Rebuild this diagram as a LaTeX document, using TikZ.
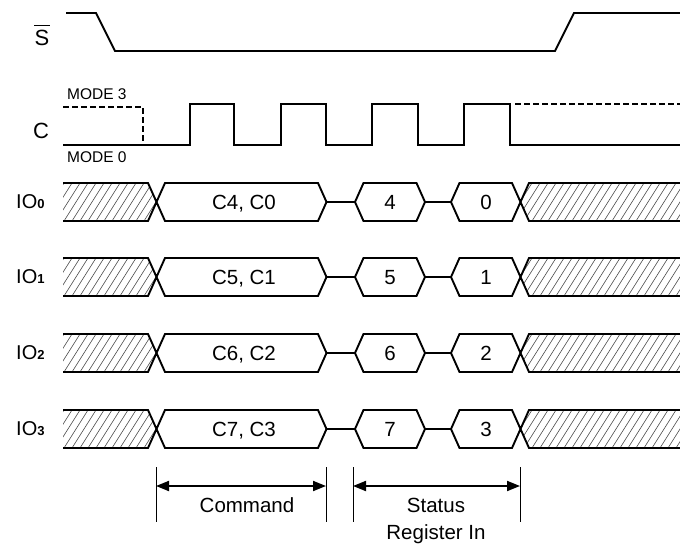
\documentclass[tikz,border=0pt]{standalone}
\usepackage{fontspec}
\setmainfont{Liberation Sans}
\usetikzlibrary{arrows.meta}
\newcommand{\rowdraw}[4]{%
% #1 center y, #2 command text, #3 first digit, #4 second digit
\begin{scope}
\clip (63,#1-19) -- (148,#1-19) -- (156.5,#1) -- (148,#1+19) -- (63,#1+19) -- cycle;
\foreach \i in {40,48,...,160} \draw[hatch] (\i,#1+19) -- ++(24,-38);
\end{scope}
\begin{scope}
\clip (520.5,#1) -- (529,#1-19) -- (680,#1-19) -- (680,#1+19) -- (529,#1+19) -- cycle;
\foreach \i in {500,508,...,690} \draw[hatch] (\i,#1+19) -- ++(24,-38);
\end{scope}
\draw[sig] (63,#1-19) -- (148,#1-19) -- (165,#1+19) -- (318,#1+19) -- (326.5,#1) -- (318,#1-19) -- (165,#1-19) -- (148,#1+19) -- (63,#1+19);
\draw[sig] (326.5,#1) -- (355,#1);
\draw[sig] (355,#1) -- (363.5,#1-19) -- (416.5,#1-19) -- (425,#1) -- (416.5,#1+19) -- (363.5,#1+19) -- cycle;
\draw[sig] (425,#1) -- (451,#1);
\draw[sig] (680,#1-19) -- (529,#1-19) -- (512,#1+19) -- (459.5,#1+19) -- (451,#1) -- (459.5,#1-19) -- (512,#1-19) -- (529,#1+19) -- (680,#1+19);
\node[txt,anchor=base] at (244,#1+7.5) {#2};
\node[txt,anchor=base] at (390,#1+7.5) {#3};
\node[txt,anchor=base] at (486,#1+7.5) {#4};
}
\begin{document}
\begin{tikzpicture}[x=1pt,y=-1pt,
  sig/.style={line width=1.9pt, line join=miter},
  hatch/.style={line width=0.6pt, black!70},
  dsig/.style={line width=2pt, dash pattern=on 6pt off 3pt},
  txt/.style={inner sep=0pt, font=\fontsize{20.5}{20.5}\selectfont},
  lbl/.style={inner sep=0pt, font=\fontsize{22}{22}\selectfont},
  iolbl/.style={inner sep=0pt, anchor=base west, font=\fontsize{20}{20}\selectfont},
  small/.style={inner sep=0pt, anchor=base west, font=\fontsize{15.5}{15.5}\selectfont},
  tick/.style={line width=0.9pt},
  dim/.style={line width=1.9pt, {Triangle[length=13pt,width=10pt]}-{Triangle[length=13pt,width=10pt]}}]
\useasboundingbox (0,0) rectangle (680,544);
% S signal
\node[lbl,anchor=base] (sl) at (42,45) {S};
\draw[line width=1.4pt] ([yshift=4pt]sl.north west) -- ([yshift=4pt]sl.north east);
\draw[sig] (66,13) -- (96,13) -- (115,51) -- (555,51) -- (574,13) -- (681,13);
% C signal
\node[lbl,anchor=base] (cl) at (41,138) {C};
\node[small] (m3) at (67,99) {MODE 3};
\node[small] (m0) at (67,162) {MODE 0};
\draw[dsig] (63,107) -- (143,107) -- (143,145);
\draw[sig] (63,145) -- (190,145) -- (190,104) -- (234,104) -- (234,145) -- (281,145) -- (281,104) -- (326,104) -- (326,145) -- (372,145) -- (372,104) -- (418,104) -- (418,145) -- (464,145) -- (464,104) -- (510,104) -- (510,145) -- (681,145);
\draw[dsig] (515,104) -- (681,104);
% IO rows
\node[iolbl] (io0) at (16,208) {IO\textbf{\fontsize{13}{13}\selectfont 0}};
\node[iolbl] (io1) at (16,283) {IO\textbf{\fontsize{13}{13}\selectfont 1}};
\node[iolbl] (io2) at (16,359) {IO\textbf{\fontsize{13}{13}\selectfont 2}};
\node[iolbl] (io3) at (16,435) {IO\textbf{\fontsize{13}{13}\selectfont 3}};
\rowdraw{202}{C4, C0}{4}{0}
\rowdraw{277}{C5, C1}{5}{1}
\rowdraw{353}{C6, C2}{6}{2}
\rowdraw{429}{C7, C3}{7}{3}
% dimension lines
\coordinate (a1) at (156,467); \coordinate (a2) at (156,522);
\coordinate (b1) at (326,467); \coordinate (b2) at (326,522);
\coordinate (c1) at (353,467); \coordinate (c2) at (353,522);
\coordinate (d1) at (520,467); \coordinate (d2) at (520,522);
\draw[tick] (a1) -- (a2);
\draw[tick] (b1) -- (b2);
\draw[tick] (c1) -- (c2);
\draw[tick] (d1) -- (d2);
\coordinate (ca) at (156,486); \coordinate (cb) at (326,486);
\coordinate (cc) at (353,486); \coordinate (cd) at (520,486);
\draw[dim] (ca) -- (cb);
\draw[dim] (cc) -- (cd);
\node[txt,anchor=base] (cmd) at (247,512) {Command};
\node[txt,anchor=base] (st) at (436,512) {Status};
\node[txt,anchor=base] (ri) at (436,539) {Register In};
\end{tikzpicture}
\end{document}
